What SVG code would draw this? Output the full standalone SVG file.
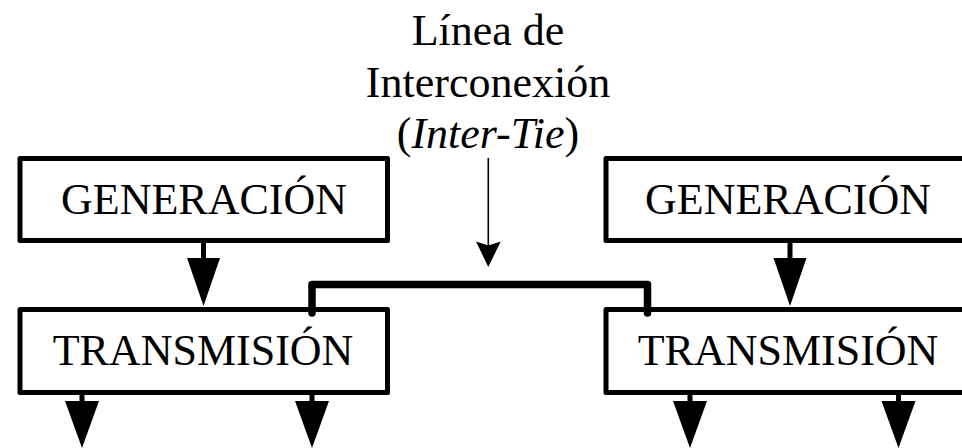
<svg xmlns="http://www.w3.org/2000/svg" width="962" height="448" viewBox="0 0 962 448">
<style>
.box{fill:#fff;stroke:#000;stroke-width:5;stroke-linejoin:round}
.lbl{font-family:"Liberation Serif","Times New Roman",serif;font-size:44px;fill:#000;text-anchor:middle}
.shaft{stroke:#000;stroke-width:5;fill:none}
.head{fill:#000;stroke:none}
</style>
<rect width="962" height="448" fill="#fff"/>
<g id="gen-left"><rect class="box" x="20" y="158.5" width="367.5" height="82"/><text class="lbl" x="204" y="214">GENERACIÓN</text></g>
<g id="trans-left"><rect class="box" x="20" y="309.5" width="367.5" height="83"/><text class="lbl" x="203" y="365">TRANSMISIÓN</text></g>
<g id="gen-right"><rect class="box" x="606" y="158.5" width="368" height="82"/><text class="lbl" x="788" y="214">GENERACIÓN</text></g>
<g id="trans-right"><rect class="box" x="606" y="309.5" width="368" height="83"/><text class="lbl" x="788" y="365">TRANSMISIÓN</text></g>
<g id="tie-label">
<text class="lbl" x="488" y="45">Línea de</text>
<text class="lbl" x="488" y="97">Interconexión</text>
<text class="lbl" x="488" y="148">(<tspan font-style="italic">Inter-Tie</tspan>)</text>
</g>
<g id="connectors">
<path d="M312,313 V284.5 H647.5 V313" fill="none" stroke="#000" stroke-width="7.5" stroke-linejoin="round" stroke-linecap="round"/>
<line x1="488.3" y1="158" x2="488.3" y2="246" stroke="#000" stroke-width="1.6"/>
<path class="head" d="M476,241.5 L488.3,267 L500.7,241.5 L488.3,245.5 Z"/>
<line class="shaft" x1="203.5" y1="241" x2="203.5" y2="260"/>
<path class="head" d="M187,258 L220,258 L203.5,306 Z"/>
<line class="shaft" x1="790" y1="241" x2="790" y2="260"/>
<path class="head" d="M773.5,258 L806.5,258 L790,306 Z"/>
<line class="shaft" x1="82" y1="392" x2="82" y2="403"/>
<path class="head" d="M65,401 L99,401 L82,448 Z"/>
<line class="shaft" x1="312" y1="392" x2="312" y2="403"/>
<path class="head" d="M295,401 L329,401 L312,448 Z"/>
<line class="shaft" x1="690" y1="392" x2="690" y2="403"/>
<path class="head" d="M673,401 L707,401 L690,448 Z"/>
<line class="shaft" x1="898.5" y1="392" x2="898.5" y2="403"/>
<path class="head" d="M881.5,401 L915.5,401 L898.5,448 Z"/>
</g>
</svg>
